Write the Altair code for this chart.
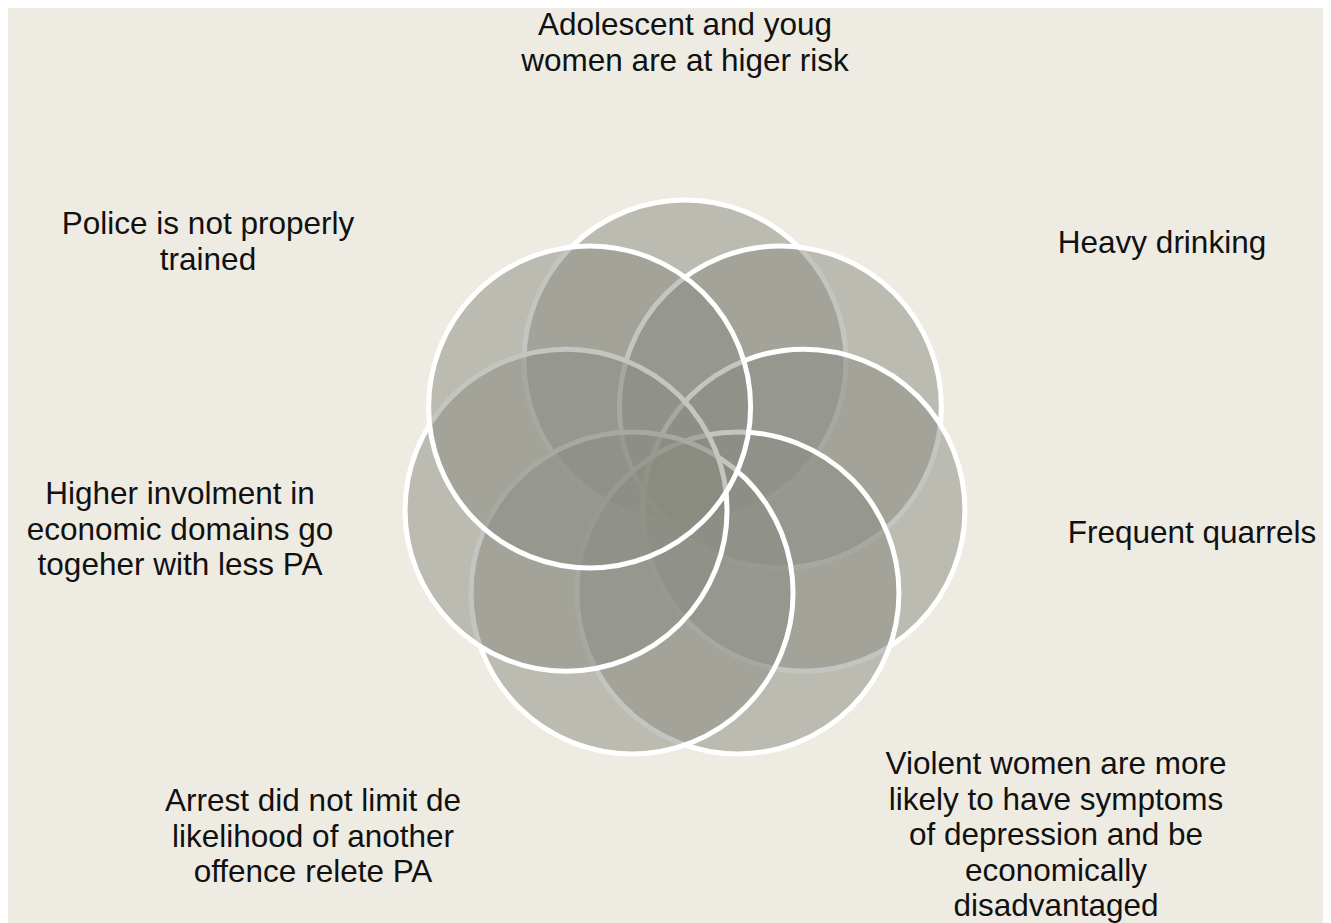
import math
import altair as alt
import pandas as pd

# ---- content -------------------------------------------------------------
labels = [
    "Adolescent and youg\nwomen are at higer risk",
    "Heavy drinking",
    "Frequent quarrels",
    "Violent women are more\nlikely to have symptoms\nof depression and be\neconomically\ndisadvantaged",
    "Arrest did not limit de\nlikelihood of another\noffence relete PA",
    "Higher involment in\neconomic domains go\ntogeher with less PA",
    "Police is not properly\ntrained",
]

# ---- layout (screen pixels) ---------------------------------------------
W, H = 1315, 907
CX, CY = 685.0, 483.0      # centre of the ring of circles
RING = 122.0               # distance of each circle centre from CX, CY
RADIUS = 161.0             # circle radius
# anchor of the first text line of each label
label_x = [685, 1162, 1192, 1056, 313, 180, 208]
label_y = [26, 244, 534, 765, 802, 495, 225]

n = len(labels)
circ = pd.DataFrame({
    "idx": list(range(n)),
    "x": [CX + RING * math.cos(math.radians(-90 + i * 360 / n)) for i in range(n)],
    "y": [CY + RING * math.sin(math.radians(-90 + i * 360 / n)) for i in range(n)],
})
txt = pd.DataFrame({"label": labels, "x": label_x, "y": label_y})

xs = alt.Scale(domain=[8, 8 + W], range=[0, W], nice=False, zero=False)
ys = alt.Scale(domain=[8, 8 + H], range=[0, H], nice=False, zero=False)

circles = alt.Chart(circ).mark_point(
    shape="circle", filled=True, fill="#8A8B82", fillOpacity=0.5,
    stroke="white", strokeWidth=5, strokeOpacity=1, opacity=1,
    size=(2 * RADIUS) ** 2,
).encode(
    x=alt.X("x:Q", scale=xs, axis=None),
    y=alt.Y("y:Q", scale=ys, axis=None),
    order=alt.Order("idx:Q"),
)

texts = alt.Chart(txt).mark_text(
    font="Liberation Sans", fontSize=31.5, lineHeight=35.5, lineBreak="\n",
    align="center", baseline="middle", color="#111111",
).encode(
    x=alt.X("x:Q", scale=xs, axis=None),
    y=alt.Y("y:Q", scale=ys, axis=None),
    text="label:N",
)

chart = alt.layer(circles, texts).properties(
    width=W, height=H, padding=0, background="#EEEBE3",
).configure_view(stroke=None)

chart.save("out.html", embed_options={"renderer": "svg", "actions": False})
